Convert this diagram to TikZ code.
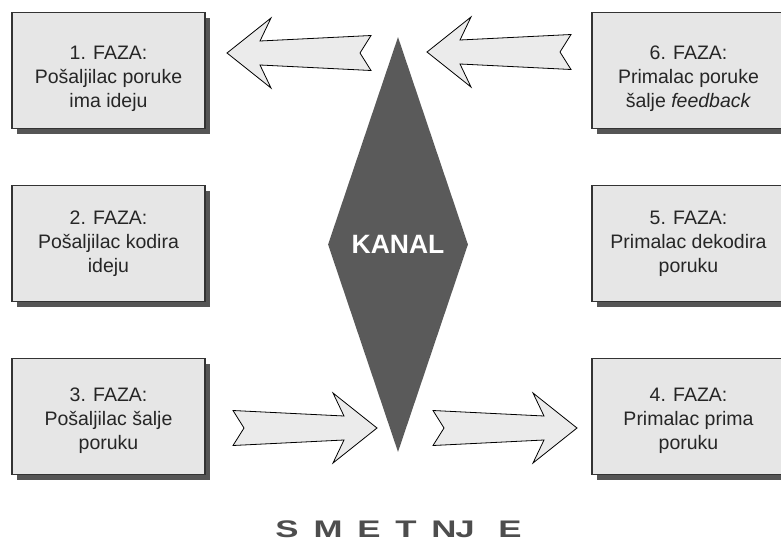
\documentclass[tikz,border=0pt]{standalone}
\usepackage{fontspec}
\setmainfont{Liberation Sans}
\usetikzlibrary{shapes.geometric,shadows}
\definecolor{boxfill}{HTML}{E6E6E6}
\definecolor{boxline}{HTML}{333333}
\definecolor{shadowc}{HTML}{555555}
\definecolor{kanalc}{HTML}{5A5A5A}
\definecolor{arrowfill}{HTML}{EBEBEB}
\definecolor{txt}{HTML}{262626}
\definecolor{smet}{HTML}{4D4D4D}
\tikzset{
  fazabox/.style={rectangle, draw=boxline, line width=1.4pt, fill=boxfill,
    minimum width=193pt, minimum height=116pt, inner sep=0pt,
    drop shadow={shadow xshift=5pt, shadow yshift=-5pt, fill=shadowc, opacity=1}},
  fazatext/.style={align=center, inner sep=0pt, text=txt,
    font=\fontsize{19.5}{24}\selectfont},
  blockarrow/.style={draw=black, line width=0.8pt, fill=arrowfill, line join=miter},
  barrow/.pic={\draw[blockarrow] (0,0) -- (-44,-35) -- (-33,-12) -- (-144,-17.5)
    -- (-133,0) -- (-144,17.5) -- (-33,12) -- (-44,35) -- cycle;},
  smetletter/.style={text=smet, inner sep=0pt, font=\fontsize{24}{24}\bfseries\selectfont}
}
\newcommand{\wideletter}[1]{\scalebox{1.45}[1]{#1}}
\begin{document}
\begin{tikzpicture}[x=1pt,y=-1pt]
\useasboundingbox (0,0) rectangle (781,541);
\clip (0,0) rectangle (781,541);
\node[fazabox] (f1) at (108.5,70.5) {};
\node[fazabox] (f2) at (108.5,243.5) {};
\node[fazabox] (f3) at (108.5,416.5) {};
\node[fazabox] (f4) at (688.5,416.5) {};
\node[fazabox] (f5) at (688.5,243.5) {};
\node[fazabox] (f6) at (688.5,70.5) {};
\node[fazatext] (t1) at ([yshift=-8.5pt]f1.center) {1. FAZA:\\Pošaljilac poruke\\ima ideju};
\node[fazatext] (t2) at (f2.center) {2. FAZA:\\Pošaljilac kodira\\ideju};
\node[fazatext] (t3) at ([yshift=-4pt]f3.center) {3. FAZA:\\Pošaljilac šalje\\poruku};
\node[fazatext] (t4) at ([yshift=-4pt]f4.center) {4. FAZA:\\Primalac prima\\poruku};
\node[fazatext] (t5) at (f5.center) {5. FAZA:\\Primalac dekodira\\poruku};
\node[fazatext] (t6) at ([yshift=-8.5pt]f6.center) {6. FAZA:\\Primalac poruke\\šalje \textit{feedback}};
\node[diamond, fill=kanalc, minimum width=140pt, minimum height=415pt, inner sep=0pt,
  text=white, font=\fontsize{26.5}{26.5}\bfseries\selectfont] (kanal) at (398,244.5) {KANAL};
\coordinate (a1) at (227,53);
\coordinate (a6) at (427,52);
\coordinate (a3) at (377,428);
\coordinate (a4) at (577,428);
\pic[xscale=-1] at (a1) {barrow};
\pic[xscale=-1] at (a6) {barrow};
\pic at (a3) {barrow};
\pic at (a4) {barrow};
\node[smetletter] (s1) at (287,529) {\wideletter{S}};
\node[smetletter] (s2) at (328,529) {\wideletter{M}};
\node[smetletter] (s3) at (369,529) {\wideletter{E}};
\node[smetletter] (s4) at (406,529) {\wideletter{T}};
\node[smetletter] (s5) at (444,529) {\wideletter{N}};
\node[smetletter] (s6) at (465,529) {\wideletter{J}};
\node[smetletter] (s7) at (510,529) {\wideletter{E}};
\end{tikzpicture}
\end{document}
